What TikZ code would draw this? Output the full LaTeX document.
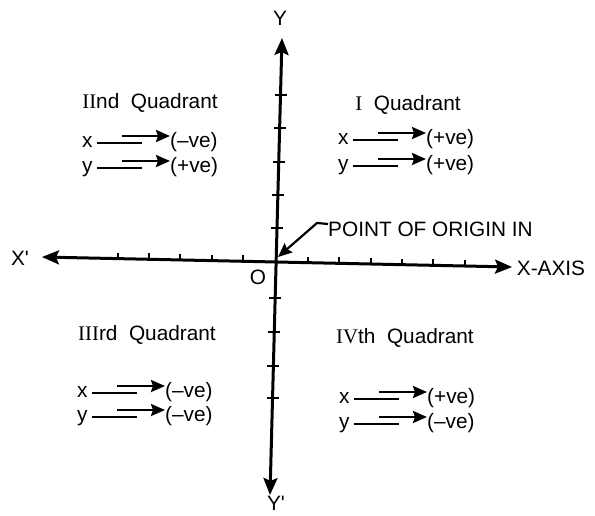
\documentclass[tikz,border=0pt]{standalone}
\usepackage{fontspec}
\setmainfont{Liberation Sans}
\newfontfamily\romfont{Liberation Serif}
\usetikzlibrary{arrows.meta}
\newcommand\qrow[5]{%
  \node[rowtxt] (#1l) at ({#2-2},#3) {#4};
  \node[rowtxt] (#1s) at ({#2+86},#3) {#5};
  \coordinate (#1a) at ({#2+13},{#3-4});
  \coordinate (#1b) at ({#2+58},{#3-4});
  \coordinate (#1c) at ({#2+38},{#3-11});
  \draw[shaft] (#1a) -- (#1b);
  \draw[sign] (#1c) -- (#1s.west |- #1c);
}
\begin{document}
\begin{tikzpicture}[x=1pt,y=-1pt,
  axis/.style={line width=3pt,{Stealth[length=17pt,width=14pt,inset=3pt]}-{Stealth[length=17pt,width=14pt,inset=3pt]}},
  tick/.style={line width=1.8pt},
  lbl/.style={font=\fontsize{20.8}{24}\selectfont, inner sep=0pt},
  rowtxt/.style={lbl, anchor=base west},
  shaft/.style={line width=1.8pt},
  sign/.style={line width=2.4pt,-{Stealth[length=14pt,width=12pt,inset=2pt]}},
]
\useasboundingbox (0,0) rectangle (595,515);
% axes
\coordinate (ytop) at (282,38);
\coordinate (ybot) at (270,495);
\coordinate (xl) at (42,257);
\coordinate (xr) at (512,267);
\draw[axis] (ybot) -- (ytop);
\draw[axis] (xl) -- (xr);
\foreach \t in {118,149,180,212,243,308,339,371,402,433,465}
  \draw[tick] (\t,{257+(\t-42)*10/470}) -- ++(0,-6);
\foreach \t in {95,128,162,195,228,298,332,366,398}
  \draw[tick] ({282-(\t-38)*12/457-6},\t) -- ++(12,0);
% axis labels
\node[lbl] (Y) at (280,18) {Y};
\node[lbl] (Yp) at (276,503) {Y\textquotesingle};
\node[lbl] (Xp) at (20,258) {X\textquotesingle};
\node[lbl] (XA) at (551,268) {X-AXIS};
\node[lbl] (Ol) at (258,277) {O};
% point of origin
\node[lbl, anchor=west] (poi) at (328,229) {POINT OF ORIGIN IN};
\coordinate (pa) at (278,257);
\coordinate (pk) at (317,223);
\draw[line width=2.2pt,-{Stealth[length=14pt,width=12pt,inset=2pt]}] ([yshift=5pt]poi.west) -- (pk) -- (pa);
% quadrant titles
\node[lbl] (q2) at (150,103) {{\romfont II}nd\ \ Quadrant};
\node[lbl] (q1) at (408,105) {{\romfont I}\ \ Quadrant};
\node[lbl] (q3) at (147,335) {{\romfont III}rd\ \ Quadrant};
\node[lbl] (q4) at (405,338) {{\romfont IV}th\ \ Quadrant};
% rows
\qrow{q2x}{84}{147}{x}{(–ve)}
\qrow{q2y}{84}{172}{y}{(+ve)}
\qrow{q1x}{340}{144}{x}{(+ve)}
\qrow{q1y}{340}{170}{y}{(+ve)}
\qrow{q3x}{79}{397}{x}{(–ve)}
\qrow{q3y}{79}{421}{y}{(–ve)}
\qrow{q4x}{341}{403}{x}{(+ve)}
\qrow{q4y}{341}{428}{y}{(–ve)}
\end{tikzpicture}
\end{document}
